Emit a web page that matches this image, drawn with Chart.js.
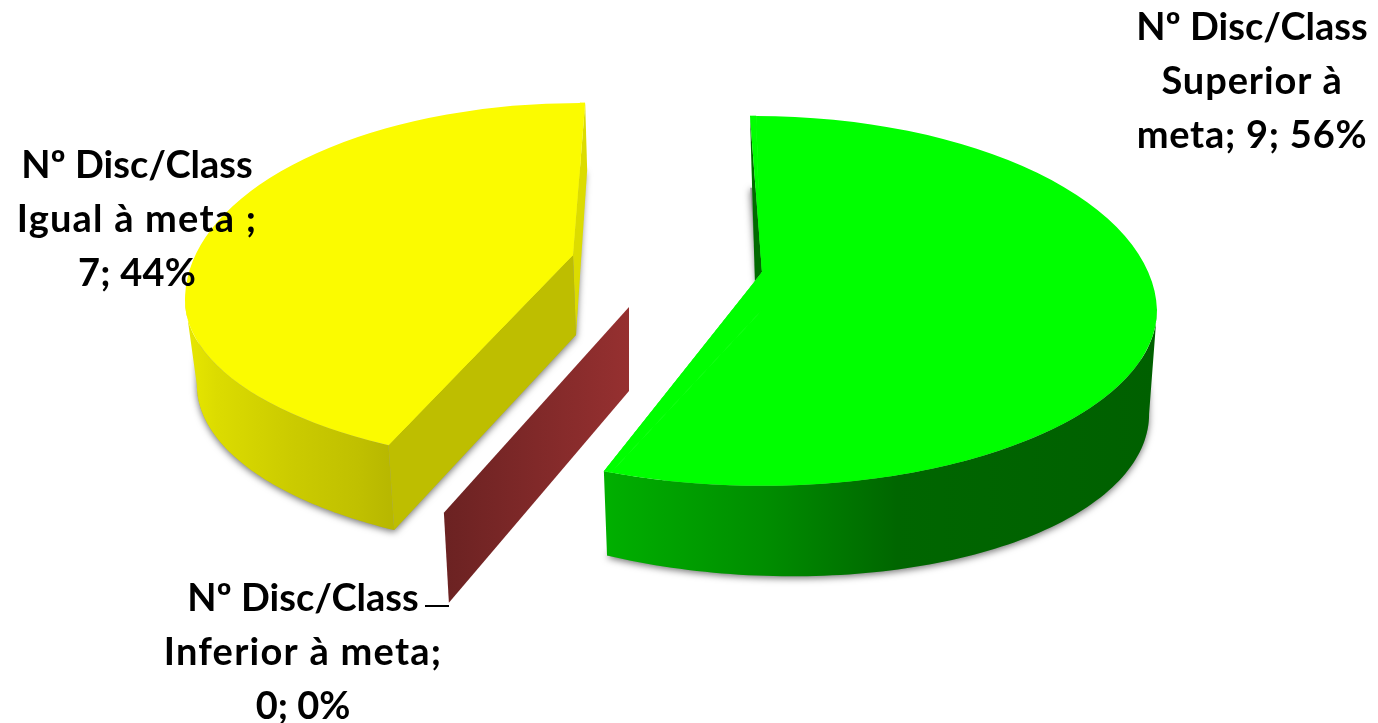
<!DOCTYPE html>
<html>
<head>
<meta charset="utf-8">
<style>
html,body{margin:0;padding:0;background:#fff}
canvas{display:block}
</style>
<script src="https://cdn.jsdelivr.net/npm/chart.js@4/dist/chart.umd.js"></script>
</head>
<body>
<canvas id="pie" width="1378" height="723"></canvas>
<script>
// data
const categories = ['Nº Disc/Class Superior à meta', 'Nº Disc/Class Inferior à meta', 'Nº Disc/Class Igual à meta'];
const values = [9, 0, 7];
const labelLines = [
  ['Nº Disc/Class', 'Superior à', 'meta; 9; 56%'],
  ['Nº Disc/Class', 'Inferior à meta;', '0; 0%'],
  ['Nº Disc/Class', 'Igual à meta ;', '7; 44%']
];

const topColors = ['#00ff00', '#963030', '#fbfb00'];
// perspective fake: ellipse centre, squash and lean of each half, true apex,
// degrees the visible edges differ from the arc's own edges, how the floor sits under the top
const sliceView = [
  {cx: 762, cy: 310, up: .491, down: .445, leanUp: .03, leanDown: 0, ax: 762, ay: 272,
   growStart: .9, growEnd: 1.1, floor: .98, drop: 90, tilt: .035, apexDrop: [0, 84]},
  {cx: 629, cy: 307, up: .4, down: .564, leanUp: 0, leanDown: -.165, ax: 629, ay: 307,
   growStart: 0, growEnd: 0, floor: 1, drop: 90, tilt: 0, apexDrop: [0, 84]},
  {cx: 580, cy: 300, up: .499, down: .42, leanUp: 0, leanDown: 0, ax: 573, ay: 255,
   growStart: -6.5, growEnd: .75, floor: .97, drop: 85, tilt: 0, apexDrop: [3, 80]}
];
const labelPos = [[1252, 28], [303, 599], [137, 166]];
const labelSpacing = [[0, .9, .75], [0, 1.25, 0], [0, 1.2, .2]];
const lineGap = 54;

function pt(view, el, a) {
  const dx = Math.cos(a) * el.outerRadius, dy = Math.sin(a) * el.outerRadius;
  const sy = dy * (dy < 0 ? view.up : view.down);
  return [view.cx + dx + sy * (dy < 0 ? view.leanUp : view.leanDown), view.cy + sy];
}

function arcPoints(view, el, from, to) {
  const pts = [], n = 90;
  for (let i = 0; i <= n; i++) pts.push(pt(view, el, from + (to - from) * i / n));
  return pts;
}

function edges(view, el) {
  const rad = Math.PI / 180;
  return [el.startAngle - view.growStart * rad, el.endAngle + view.growEnd * rad];
}

// point of the floor right under a point of the top face
function under(view, p) {
  return [view.cx + (p[0] - view.cx) * view.floor, p[1] + view.drop + (p[0] - view.cx) * view.tilt];
}

function wallGradient(ctx, x0, x1, stops) {
  const g = ctx.createLinearGradient(x0, 0, x1, 0);
  stops.forEach(s => g.addColorStop(s[0], s[1]));
  return g;
}

function tracePoly(ctx, pts) {
  ctx.beginPath();
  pts.forEach((p, i) => i ? ctx.lineTo(p[0], p[1]) : ctx.moveTo(p[0], p[1]));
  ctx.closePath();
}

function fillPoly(ctx, pts, fill) {
  tracePoly(ctx, pts);
  ctx.fillStyle = fill;
  ctx.fill();
}

function shift(p, d) { return [p[0] + d[0], p[1] + d[1]]; }
function lerp(p, q, t) { return [p[0] + (q[0] - p[0]) * t, p[1] + (q[1] - p[1]) * t]; }

function drawRim(ctx, view, el, from, to, stops) {
  const pts = arcPoints(view, el, from, to);
  const low = pts.map(p => under(view, p)).reverse();
  const xs = pts.map(p => p[0]);
  fillPoly(ctx, pts.concat(low), wallGradient(ctx, Math.min(...xs), Math.max(...xs), stops));
}

function drawTopFace(ctx, view, arc, color) {
  const [s, e] = edges(view, arc);
  const apex = [view.ax, view.ay], centre = [view.cx, view.cy];
  const ps = pt(view, arc, s), pe = pt(view, arc, e);

  // the visible wedge: from the true apex out past the rim
  ctx.save();
  const around = arcPoints(view, arc, s, e).map(p => lerp(centre, p, 1.3));
  tracePoly(ctx, [apex, lerp(apex, ps, 1.5)].concat(around, [lerp(apex, pe, 1.5)]));
  ctx.clip();

  // what the apex shift leaves uncovered by the arc
  ctx.fillStyle = ctx.strokeStyle = color;
  ctx.lineWidth = 1;
  [[arc.startAngle, s], [arc.endAngle, e]].forEach(r => {
    tracePoly(ctx, [apex, centre].concat(arcPoints(view, arc, r[0], r[1])));
    ctx.fill();
    ctx.stroke();
  });

  // the arc itself, upper and lower half of the ellipse
  [[view.up, view.leanUp, 0, view.cy + .5], [view.down, view.leanDown, view.cy - .5, 723]].forEach(c => {
    ctx.save();
    ctx.beginPath();
    ctx.rect(0, c[2], 1378, c[3] - c[2]);
    ctx.clip();
    ctx.transform(1, 0, c[1] * c[0], c[0], view.cx, view.cy);
    ctx.translate(-arc.x, -arc.y);
    arc.draw(ctx);
    ctx.restore();
  });
  ctx.restore();
}

const pie3d = {
  id: 'pie3d',
  beforeDatasetDraw(chart, args) {
    const ctx = chart.ctx, arcs = args.meta.data;

    // soft shadow of the floor of each block
    ctx.save();
    ctx.shadowColor = 'rgba(0,0,0,.55)';
    ctx.shadowBlur = 7;
    ctx.shadowOffsetY = 2;
    [0, 2].forEach(i => {
      const v = sliceView[i], el = arcs[i], [s, e] = edges(v, el);
      const pts = arcPoints(v, el, s, e).map(p => {
        const u = under(v, p);
        return p[1] < v.cy ? [u[0], u[1] - 18] : u;
      });
      pts.push(shift([v.ax, v.ay], v.apexDrop));
      fillPoly(ctx, pts, '#999');
    });
    ctx.restore();

    // green slice
    let v = sliceView[0], el = arcs[0], [s, e] = edges(v, el);
    fillPoly(ctx, [pt(v, el, s), [v.ax, v.ay], lerp([v.ax, v.ay], pt(v, el, e), .045)], '#006a00');
    drawRim(ctx, v, el, 0, e, [[0, '#00b000'], [.3, '#008c00'], [.53, '#006600'], [1, '#006000']]);

    // zero slice is only a wall
    v = sliceView[1]; el = arcs[1];
    const p = pt(v, el, el.startAngle), o = [v.ax, v.ay];
    fillPoly(ctx, [o, p, shift(p, [5, v.drop]), shift(o, v.apexDrop)],
      wallGradient(ctx, p[0], v.ax, [[0, '#6b2222'], [1, '#963030']]));

    // yellow slice
    v = sliceView[2]; el = arcs[2]; [s, e] = edges(v, el);
    const apex = [v.ax, v.ay], back = pt(v, el, e), corner = pt(v, el, s);
    fillPoly(ctx, [back, apex, shift(apex, v.apexDrop), shift(back, [2, 67])], '#dcdc00');
    drawRim(ctx, v, el, s, Math.PI, [[0, '#e8e800'], [.15, '#dcdc00'], [.5, '#cccc00'], [.85, '#c0c000'], [1, '#b8b800']]);
    fillPoly(ctx, [apex, corner, under(v, corner), shift(apex, v.apexDrop)], '#bebe00');

    // top faces, through the library's own arc element
    arcs.forEach((arc, i) => {
      if (values[i]) drawTopFace(ctx, sliceView[i], arc, topColors[i]);
    });

    // leader line of the zero slice
    ctx.strokeStyle = '#000';
    ctx.lineWidth = 2;
    ctx.beginPath();
    ctx.moveTo(425, 606);
    ctx.lineTo(449, 606);
    ctx.stroke();

    // labels
    ctx.fillStyle = '#000';
    ctx.font = 'bold 38px Lato';
    ctx.textAlign = 'center';
    ctx.textBaseline = 'middle';
    labelLines.forEach((lines, i) => {
      lines.forEach((t, k) => {
        ctx.letterSpacing = labelSpacing[i][k] + 'px';
        ctx.fillText(t, labelPos[i][0], labelPos[i][1] + k * lineGap);
      });
    });
    return false;
  }
};

new Chart(document.getElementById('pie'), {
  type: 'pie',
  data: {
    labels: categories,
    datasets: [{
      data: values,
      backgroundColor: topColors,
      borderWidth: 0,
      hoverOffset: 0
    }]
  },
  options: {
    responsive: false,
    animation: false,
    radius: 395,
    rotation: 0,
    layout: {padding: 0},
    plugins: {legend: {display: false}, tooltip: {enabled: false}}
  },
  plugins: [pie3d]
});
</script>
</body>
</html>
